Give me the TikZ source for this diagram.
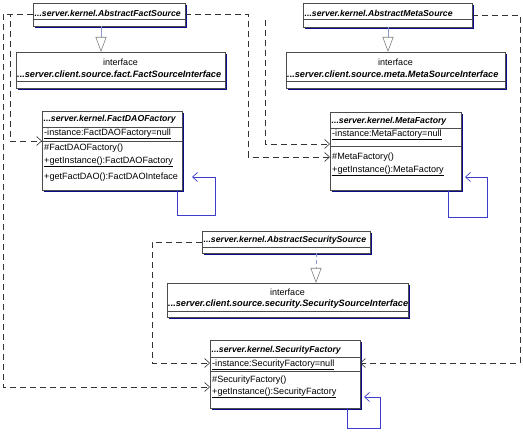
\documentclass[tikz,border=0pt]{standalone}
\usepackage{fontspec}
\setmainfont{Liberation Sans}
\usepackage{tikz}
\usetikzlibrary{arrows.meta,shadows}
\definecolor{shadowblue}{RGB}{10,10,140}
\definecolor{loopblue}{RGB}{60,60,200}
\definecolor{genblue}{RGB}{140,150,210}

\begin{document}
\begin{tikzpicture}[x=1pt,y=-1pt,
  classbox/.style={draw=black!70, line width=0.6pt, fill=white, anchor=north west, inner sep=0pt, outer sep=0pt,
    drop shadow={shadow xshift=2pt, shadow yshift=-2pt, fill=shadowblue, opacity=1}},
  cname/.style={anchor=west, inner sep=0pt, font=\fontsize{8.7}{10}\selectfont\bfseries\itshape},
  iname/.style={cname, font=\fontsize{9.2}{10}\selectfont\bfseries\itshape},
  member/.style={anchor=west, inner sep=0pt, font=\fontsize{9.1}{10}\selectfont},
  stereo/.style={inner sep=0pt, font=\fontsize{9}{10}\selectfont},
  sep/.style={draw=black!70, line width=0.5pt},
  dep/.style={draw=black!80, line width=0.6pt, dash pattern=on 6pt off 4pt, -{Straight Barb[length=5pt,width=9pt]}},
  gen/.style={draw=genblue, line width=0.6pt, -{Triangle[open, length=15pt, width=11pt, color=gray]}},
  self/.style={draw=loopblue, line width=0.7pt, -{Straight Barb[length=5pt,width=9pt]}}]
\useasboundingbox (0,0) rectangle (523,438);

\node[classbox, minimum width=152, minimum height=23] (afs) at (33,3) {};
\node[cname] (afsName) at (34.5,13) {...server.kernel.AbstractFactSource};
\draw[sep] (afs.west |- 0,19) -- (afs.east |- 0,19);

\node[classbox, minimum width=209, minimum height=36] (fsi) at (16,52) {};
\node[stereo] (fsiStereo) at (120.5,62) {interface};
\node[iname] (fsiName) at (17,74) {...server.client.source.fact.FactSourceInterface};
\draw[sep] (fsi.west |- 0,81) -- (fsi.east |- 0,81);

\node[classbox, minimum width=169, minimum height=24] (ams) at (303,3) {};
\node[cname] (amsName) at (304.5,13) {...server.kernel.AbstractMetaSource};
\draw[sep] (ams.west |- 0,19) -- (ams.east |- 0,19);

\node[classbox, minimum width=219, minimum height=36] (msi) at (286,52) {};
\node[stereo] (msiStereo) at (395.5,62) {interface};
\node[iname] (msiName) at (287,74) {...server.client.source.meta.MetaSourceInterface};
\draw[sep] (msi.west |- 0,81) -- (msi.east |- 0,81);

\node[classbox, minimum width=140, minimum height=79] (fdf) at (42,111) {};
\node[cname] (fdfName) at (43.5,119) {...server.kernel.FactDAOFactory};
\draw[sep] (fdf.west |- 0,127) -- (fdf.east |- 0,127);
\node[member] (fdfInst) at (44,134) {\underline{-instance:FactDAOFactory=null}};
\draw[sep] (fdf.west |- 0,141) -- (fdf.east |- 0,141);
\node[member] (fdfCons) at (44,148) {\#FactDAOFactory()};
\node[member] (fdfGet) at (44,162) {\underline{+getInstance():FactDAOFactory}};
\node[member] (fdfDao) at (44,177) {+getFactDAO():FactDAOInteface};

\node[classbox, minimum width=131, minimum height=78] (mf) at (330,112) {};
\node[cname] (mfName) at (331.5,121) {...server.kernel.MetaFactory};
\draw[sep] (mf.west |- 0,128) -- (mf.east |- 0,128);
\node[member] (mfInst) at (332,135) {\underline{-instance:MetaFactory=null}};
\draw[sep] (mf.west |- 0,146) -- (mf.east |- 0,146);
\node[member] (mfCons) at (332,157) {\#MetaFactory()};
\node[member] (mfGet) at (332,171) {\underline{+getInstance():MetaFactory}};

\node[classbox, minimum width=168, minimum height=22] (ass) at (202,231) {};
\node[cname] (assName) at (203.5,240) {...server.kernel.AbstractSecuritySource};
\draw[sep] (ass.west |- 0,247) -- (ass.east |- 0,247);

\node[classbox, minimum width=241, minimum height=34] (ssi) at (167,283) {};
\node[stereo] (ssiStereo) at (287.5,292) {interface};
\node[iname] (ssiName) at (168,304) {...server.client.source.security.SecuritySourceInterface};
\draw[sep] (ssi.west |- 0,311) -- (ssi.east |- 0,311);

\node[classbox, minimum width=150, minimum height=68] (sf) at (210,340) {};
\node[cname] (sfName) at (211.5,350) {...server.kernel.SecurityFactory};
\draw[sep] (sf.west |- 0,357) -- (sf.east |- 0,357);
\node[member] (sfInst) at (212,365) {\underline{-instance:SecurityFactory=null}};
\draw[sep] (sf.west |- 0,371) -- (sf.east |- 0,371);
\node[member] (sfCons) at (212,380) {\#SecurityFactory()};
\node[member] (sfGet) at (212,393) {\underline{+getInstance():SecurityFactory}};

\coordinate (mfDep) at (265,20);

\draw[gen] (afs.south -| 101,0) -- (fsi.north -| 101,0);
\draw[gen] (ams.south -| 388,0) -- (msi.north -| 388,0);
\draw[gen, dash pattern=on 4pt off 3pt] (ass.south -| 316,0) -- (ssi.north -| 316,0);

\draw[dep] (afs.west) -| (3,387) -- (sf.west |- 0,387);
\draw[dep] (afs.west) -| (10,141) -- (fdf.west |- 0,141);
\draw[dep] (afs.east) -| (248,157) -- (mf.west |- 0,157);
\draw[dep] (mfDep) |- (mf.west |- 0,144);
\draw[dep] (ams.east) -| (520,363) -- (sf.east |- 0,363);
\draw[dep] (ass.west) -| (152,363) -- (sf.west |- 0,363);

\draw[self] (fdf.south -| 177,0) -- (177,215) -| (215,177) -- ([xshift=10pt]fdf.east |- 0,177);
\draw[self] (mf.south -| 448,0) -- (448,217) -| (487,177) -- ([xshift=4pt]mf.east |- 0,177);
\draw[self] (sf.south -| 347,0) -- (347,428) -| (380,397) -- ([xshift=4pt]sf.east |- 0,397);
\end{tikzpicture}
\end{document}
